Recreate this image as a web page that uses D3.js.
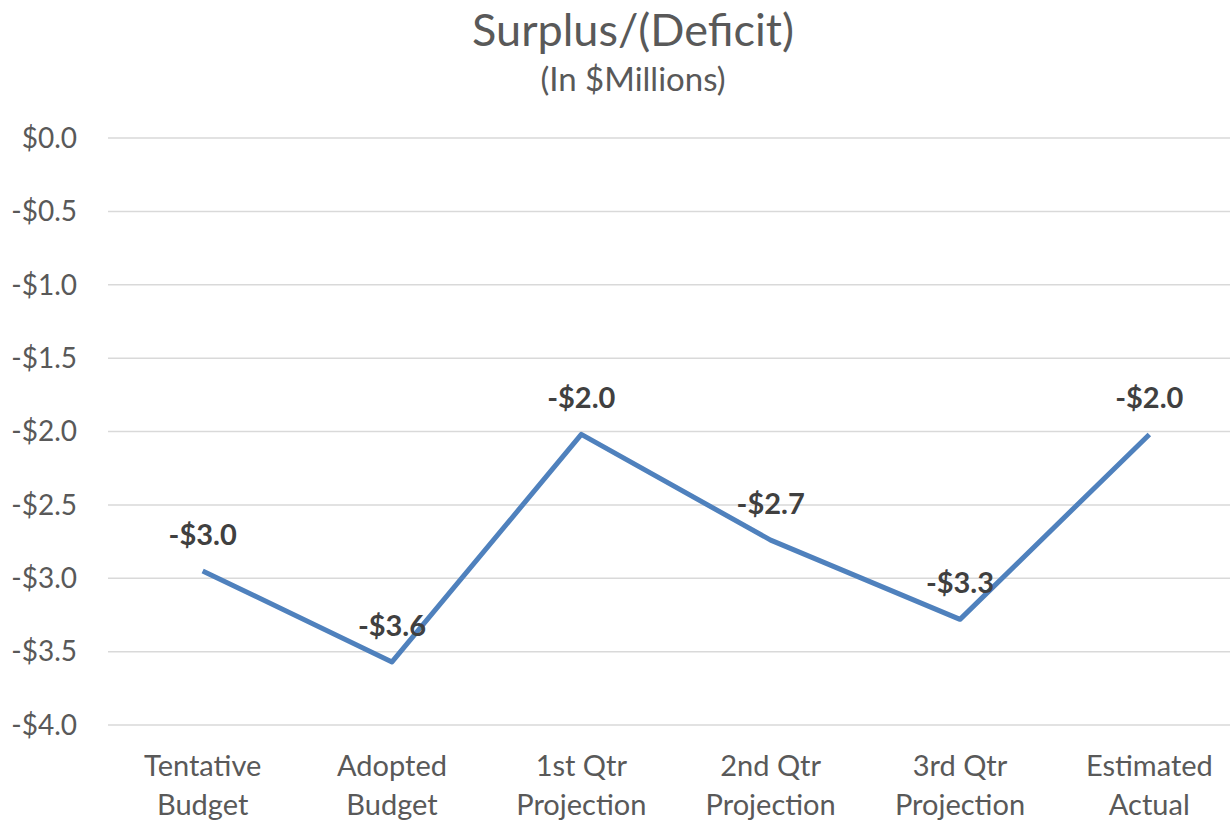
<!DOCTYPE html>
<html>
<head>
<meta charset="utf-8">
<style>
  body { margin: 0; background: #fff; }
  svg text { font-family: Lato, "Open Sans", sans-serif; }
</style>
</head>
<body>
<div id="chart"></div>
<script src="https://cdnjs.cloudflare.com/ajax/libs/d3/7.8.5/d3.min.js"></script>
<script>
  // Chart data
  const categories = [
    ["Tentative", "Budget"],
    ["Adopted", "Budget"],
    ["1st Qtr", "Projection"],
    ["2nd Qtr", "Projection"],
    ["3rd Qtr", "Projection"],
    ["Estimated", "Actual"]
  ];
  const values = [-2.95, -3.57, -2.02, -2.74, -3.28, -2.02];
  const yTicks = [0, -0.5, -1, -1.5, -2, -2.5, -3, -3.5, -4];

  const width = 1230;
  const height = 822;
  const margin = {top: 138, right: -14, bottom: 97, left: 108};

  const svg = d3.create("svg")
    .attr("width", width)
    .attr("height", height)
    .attr("viewBox", [0, 0, width, height]);

  const x = d3.scaleBand()
    .domain(d3.range(categories.length))
    .range([margin.left, width - margin.right]);

  const y = d3.scaleLinear()
    .domain([0, -4])
    .range([margin.top, height - margin.bottom]);

  const fmt = v => (v < 0 ? "-" : "") + "$" + Math.abs(v).toFixed(1);

  // Title
  svg.append("text")
    .attr("x", 633).attr("y", 46)
    .attr("text-anchor", "middle")
    .attr("font-size", 45)
    .attr("fill", "#595959")
    .text("Surplus/(Deficit)");
  svg.append("text")
    .attr("x", 633).attr("y", 91)
    .attr("text-anchor", "middle")
    .attr("font-size", 33)
    .attr("fill", "#595959")
    .text("(In $Millions)");

  // Gridlines
  svg.append("g")
    .selectAll("line")
    .data(yTicks)
    .join("line")
    .attr("x1", margin.left)
    .attr("x2", width)
    .attr("y1", d => y(d))
    .attr("y2", d => y(d))
    .attr("stroke", "#d9d9d9")
    .attr("stroke-width", 1.5);

  // Y axis labels
  svg.append("g")
    .selectAll("text")
    .data(yTicks)
    .join("text")
    .attr("x", 77)
    .attr("y", d => y(d))
    .attr("dy", "0.35em")
    .attr("text-anchor", "end")
    .attr("font-size", 28)
    .attr("fill", "#595959")
    .text(fmt);

  // X axis labels
  const xl = svg.append("g")
    .selectAll("text")
    .data(categories)
    .join("text")
    .attr("x", (d, i) => x(i) + x.bandwidth() / 2)
    .attr("text-anchor", "middle")
    .attr("font-size", 29)
    .attr("fill", "#595959");
  xl.append("tspan")
    .attr("x", (d, i) => x(i) + x.bandwidth() / 2)
    .attr("y", 776)
    .text(d => d[0]);
  xl.append("tspan")
    .attr("x", (d, i) => x(i) + x.bandwidth() / 2)
    .attr("y", 815)
    .text(d => d[1]);

  // Line
  const line = d3.line()
    .x((d, i) => x(i) + x.bandwidth() / 2)
    .y(d => y(d));

  svg.append("path")
    .datum(values)
    .attr("d", line)
    .attr("fill", "none")
    .attr("stroke", "#4f81bd")
    .attr("stroke-width", 5)
    .attr("stroke-linejoin", "round");

  // Data labels
  svg.append("g")
    .selectAll("text")
    .data(values)
    .join("text")
    .attr("x", (d, i) => x(i) + x.bandwidth() / 2)
    .attr("y", d => y(d) - 26)
    .attr("text-anchor", "middle")
    .attr("font-size", 29)
    .attr("font-weight", "bold")
    .attr("fill", "#404040")
    .text(fmt);

  d3.select("#chart").node().appendChild(svg.node());
</script>
</body>
</html>
